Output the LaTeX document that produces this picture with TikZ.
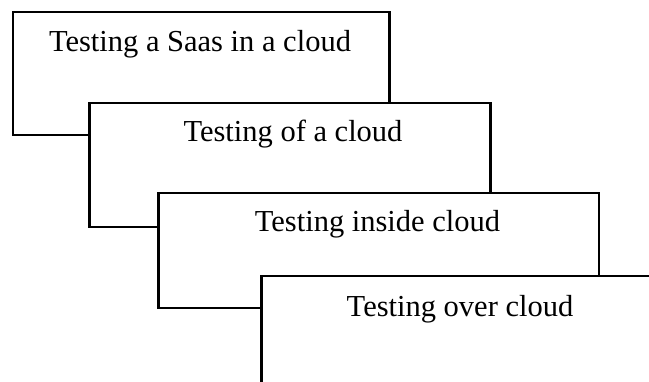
\documentclass[tikz,border=0pt]{standalone}
\usepackage{fontspec}
\setmainfont{Liberation Serif}
\begin{document}
\begin{tikzpicture}[x=1pt,y=-1pt,
  layerbox/.style={draw=black, line width=2.5pt, fill=white, rectangle, anchor=north west, inner sep=0pt},
  layertext/.style={anchor=base, inner sep=0pt, font=\fontsize{30.5}{36}\selectfont}]
\useasboundingbox[fill=white] (0,0) rectangle (649,382);
\clip (0,0) rectangle (649,382);
\node[layerbox, minimum width=376.4pt, minimum height=123pt] (b1) at (11.6,11) {};
\node[layertext] (t1) at (200,52) {Testing a Saas in a cloud};
\node[layerbox, minimum width=401pt, minimum height=124pt] (b2) at (88,101.7) {};
\node[layertext] (t2) at (293,141.7) {Testing of a cloud};
\node[layerbox, minimum width=440.4pt, minimum height=115pt] (b3) at (157.3,191.7) {};
\node[layertext] (t3) at (377.5,232) {Testing inside cloud};
\node[layerbox, minimum width=400pt, minimum height=130pt] (b4) at (260.3,275) {};
\node[layertext] (t4) at (460,317) {Testing over cloud};
\end{tikzpicture}
\end{document}
